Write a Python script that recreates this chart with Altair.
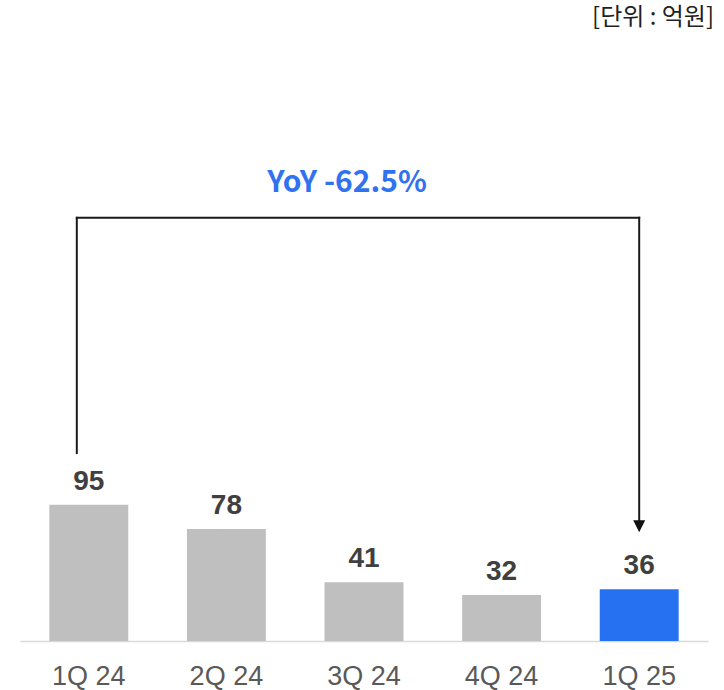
import altair as alt
import pandas as pd

# ---- data ----
quarters = ["1Q 24", "2Q 24", "3Q 24", "4Q 24", "1Q 25"]
values = [95, 78, 41, 32, 36]
groups = ["base", "base", "base", "base", "current"]
unit_label = "[단위 : 억원]"
yoy_label = "YoY -62.5%"

# annotation levels (in value units)
bracket_top = 295
left_start = 131
arrow_center = 80
yoy_level = 313

df = pd.DataFrame({"q": quarters, "v": values, "g": groups})

X = alt.X(
    "q:N",
    sort=quarters,
    title=None,
    scale=alt.Scale(domain=quarters, paddingInner=0.4265, paddingOuter=0.2133),
    axis=alt.Axis(
        labelAngle=0,
        ticks=False,
        tickSize=0,
        domainColor="#D9D9D9",
        domainWidth=1.5,
        labelColor="#595959",
        labelFontSize=27,
        labelFont="Liberation Sans",
        labelBaseline="alphabetic",
        labelPadding=43,
        grid=False,
    ),
)
Y = alt.Y("v:Q", scale=alt.Scale(domain=[0, 405], nice=False), axis=None, title=None)

bars = alt.Chart(df).mark_bar().encode(
    x=X,
    y=Y,
    color=alt.Color(
        "g:N",
        scale=alt.Scale(domain=["base", "current"], range=["#BFBFBF", "#2670F2"]),
        legend=None,
    ),
)

labels = alt.Chart(df).mark_text(
    dy=-15, baseline="alphabetic", fontSize=28, fontWeight="bold",
    color="#404040", font="Liberation Sans",
).encode(x=X, y=Y, text="v:Q")

left_df = pd.DataFrame({"q": [quarters[0]], "v": [left_start], "v2": [bracket_top]})
left_rule = alt.Chart(left_df).mark_rule(
    xOffset=-12, color="#1A1A1A", strokeWidth=2, strokeCap="square"
).encode(x=X, y=Y, y2="v2:Q")

horiz_df = pd.DataFrame({"q": [quarters[0]], "q2": [quarters[-1]], "v": [bracket_top]})
horiz_rule = alt.Chart(horiz_df).mark_rule(
    xOffset=-12, x2Offset=0, color="#1A1A1A", strokeWidth=2, strokeCap="square"
).encode(x=X, x2="q2:N", y=Y)

right_df = pd.DataFrame({"q": [quarters[-1]], "v": [bracket_top], "v2": [arrow_center]})
right_rule = alt.Chart(right_df).mark_rule(
    color="#1A1A1A", strokeWidth=2, strokeCap="square"
).encode(x=X, y=Y, y2="v2:Q")

arrow_df = pd.DataFrame({"q": [quarters[-1]], "v": [arrow_center]})
arrow = alt.Chart(arrow_df).mark_point(
    shape="M-1,-1L1,-1L0,1Z", filled=True, size=144, color="#111111", opacity=1
).encode(x=X, y=Y)

yoy_df = pd.DataFrame({"q": [quarters[2]], "v": [yoy_level], "t": [yoy_label]})
yoy = alt.Chart(yoy_df).mark_text(
    dx=-17, baseline="alphabetic", align="center", fontSize=30, fontWeight="bold",
    color="#3072F0", font="Noto Sans CJK KR",
).encode(x=X, y=Y, text="t:N")

unit_df = pd.DataFrame({"t": [unit_label]})
unit = alt.Chart(unit_df).mark_text(
    align="right", baseline="middle", fontSize=24, color="#1F1F1F",
    font="Noto Sans CJK KR",
).encode(x=alt.value(694), y=alt.value(-42), text="t:N")

chart = alt.layer(
    bars, labels, left_rule, horiz_rule, right_rule, arrow, yoy, unit
).properties(
    width=688,
    height=581,
    padding={"left": 20, "top": 60, "right": 16, "bottom": 49},
    autosize=alt.AutoSizeParams(type="none"),
    background="white",
).configure_view(stroke=None)

chart.save("out.html", embed_options={"renderer": "svg", "actions": False})
